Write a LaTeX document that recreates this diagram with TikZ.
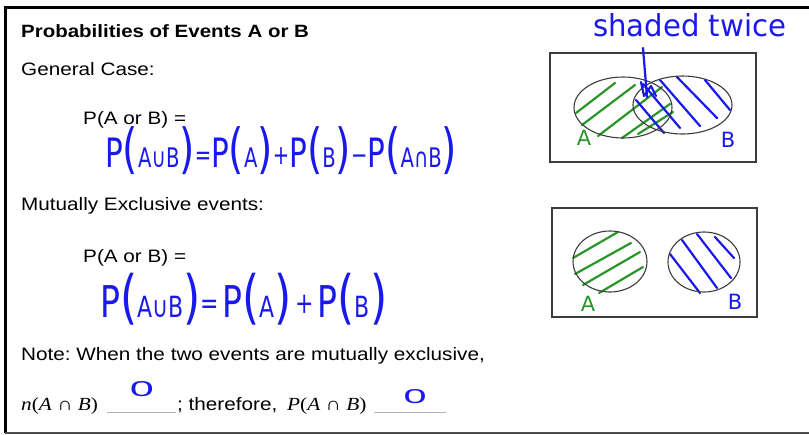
\documentclass[tikz,border=0pt]{standalone}
\usepackage{fontspec}
\usepackage{graphicx}
\setmainfont{Liberation Sans}[FakeStretch=1.15]
\newfontfamily\serifit{Liberation Serif}[FakeStretch=1.15]
\newfontfamily\hand{DejaVu Sans}
\newfontfamily\handz{Liberation Sans}
\definecolor{hblue}{RGB}{25,25,235}
\definecolor{hgreen}{RGB}{40,150,40}
\definecolor{boxgray}{RGB}{60,60,60}
\newcommand\hP{{\fontsize{36}{36}\selectfont P}}
\newcommand\hpar[1]{{\fontsize{48}{48}\selectfont(}{\fontsize{24}{24}\selectfont #1}{\fontsize{48}{48}\selectfont)}}
\newcommand\hop[1]{\raisebox{3pt}{\fontsize{24}{24}\selectfont #1}}
\tikzset{
  txt/.style={anchor=base west, inner sep=0, font=\fontsize{18}{20}\selectfont},
  hw/.style={inner sep=0, text=hblue},
  hatchg/.style={draw=hgreen, line width=2.2pt, line cap=round},
  hatchb/.style={draw=hblue, line width=2.2pt, line cap=round},
  venn/.style={draw=boxgray, line width=1.1pt},
  vbox/.style={draw=boxgray, line width=1.6pt},
  blank/.style={draw=gray!60, line width=1pt},
  lab/.style={inner sep=0, anchor=base, font=\hand\fontsize{21}{21}\selectfont}
}
\begin{document}
\frenchspacing
\begin{tikzpicture}[x=1pt,y=-1pt]
\useasboundingbox (0,0) rectangle (809,434);
% frame
\draw[line width=2.6pt, black] (5.3,433) -- (5.3,7.5) -- (809,7.5);
\draw[line width=2pt, black!70] (5.3,433) -- (809,433);

% printed text
\node[txt, font=\bfseries\fontsize{17.8}{20}\selectfont] (title) at (21,37) {Probabilities of Events A or B};
\node[txt] (gen) at (21,75) {General Case:};
\node[txt] (pab1) at (83,124) {P(A or B) =};
\node[txt] (mut) at (21,210) {Mutually Exclusive events:};
\node[txt] (pab2) at (83,262) {P(A or B) =};
\node[txt] (note) at (21,360) {Note: When the two events are mutually exclusive,};
\node[txt, font=\serifit\fontsize{18.5}{20}\selectfont] (nab) at (21,410) {\textit{n}(\textit{A} ∩ \textit{B})};
\node[txt] (there) at (177,410) {; therefore,};
\node[txt, font=\serifit\fontsize{18.5}{20}\selectfont] (pab) at (287,410) {\textit{P}(\textit{A} ∩ \textit{B})};
\draw[blank] (107,412) -- (176,412);
\draw[blank] (374,412) -- (446,412);

% handwritten equations
\node[hw, anchor=south west] (eq1) at (105,175) {\resizebox*{352pt}{48pt}{\hand\hP\hpar{A∪B}\hop{=}\hP\hpar{A}\hop{+}\hP\hpar{B}\hop{−}\hP\hpar{A∩B}}};
\node[hw, anchor=south west] (eq2) at (100,325) {\resizebox*{287pt}{52pt}{\hand\hP\hpar{A∪B}\hop{=\,}\hP\hpar{A}\hop{\,+\,}\hP\hpar{B}}};
\node[hw, anchor=base west] (tw) at (593,36) {\resizebox{193pt}{23pt}{\hand shaded twice}};
\node[hw, anchor=center] (z1) at (142,389) {\resizebox{24pt}{15pt}{\handz 0}};
\node[hw, anchor=center] (z2) at (415,397) {\resizebox{23pt}{14pt}{\handz 0}};

% top Venn diagram
\draw[vbox] (550,53) rectangle (756,162);
\draw[hatchg] (576,113) -- (615,83);
\draw[hatchg] (582,125) -- (635,85);
\draw[hatchg] (598,136) -- (662,87);
\draw[hatchg] (622,138) -- (670,104);
\draw[hatchg] (638,134) -- (673,112);
\draw[hatchb] (636,100) -- (664,133);
\draw[hatchb] (643,84) -- (680,128);
\draw[hatchb] (660,80) -- (700,126);
\draw[hatchb] (677,77) -- (717,118);
\draw[hatchb] (705,80) -- (730,110);
\draw[venn] (623,107.5) ellipse [x radius=49, y radius=30.5];
\draw[venn] (682.5,105) ellipse [x radius=49.5, y radius=29];
\coordinate (s1) at (643,48);
\coordinate (s2) at (647,97);
\draw[hatchb] (s1) -- (s2);
\draw[hatchb, line join=round] (641,82) -- (644,96) -- (651,86) -- (656,96);
\node[lab, text=hgreen] (la1) at (584,145) {A};
\node[lab, text=hblue] (lb1) at (728,147) {B};

% bottom Venn diagram
\draw[vbox] (552,208) rectangle (757,317);
\draw[hatchg] (573,258) -- (618,232);
\draw[hatchg] (575,274) -- (631,243);
\draw[hatchg] (583,285) -- (640,252);
\draw[hatchg] (599,293) -- (643,267);
\draw[hatchb] (670,254) -- (700,293);
\draw[hatchb] (682,240) -- (717,288);
\draw[hatchb] (697,234) -- (731,278);
\draw[hatchb] (715,237) -- (734,258);
\draw[venn] (610,261.5) ellipse [x radius=37, y radius=30.5];
\draw[venn] (704,262) ellipse [x radius=36, y radius=30];
\node[lab, text=hgreen] (la2) at (588,311) {A};
\node[lab, text=hblue] (lb2) at (735,309) {B};
\end{tikzpicture}
\end{document}
